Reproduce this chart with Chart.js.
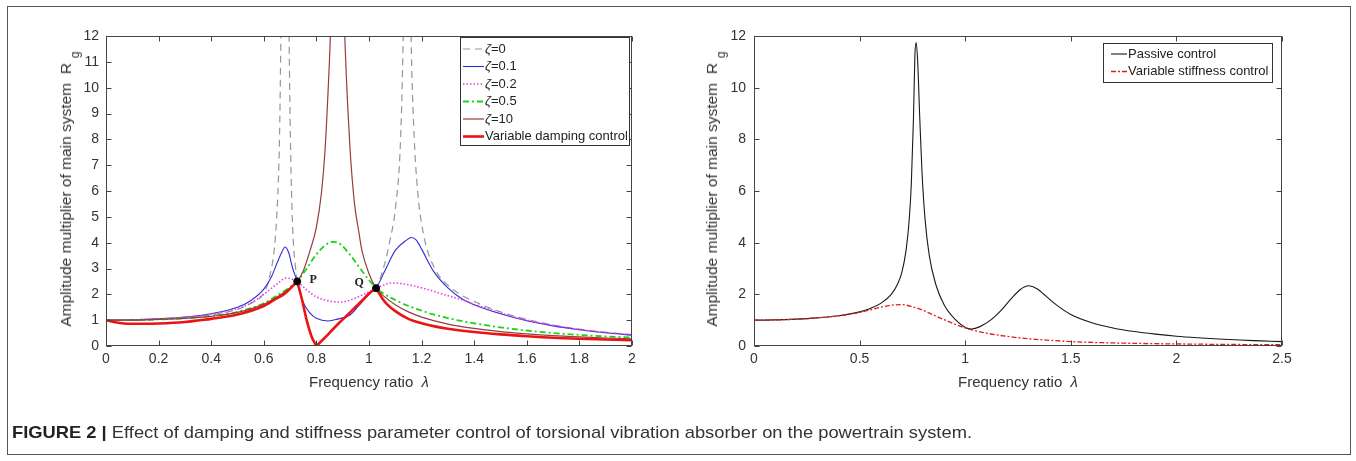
<!DOCTYPE html>
<html><head><meta charset="utf-8">
<script src="https://cdn.jsdelivr.net/npm/chart.js@4.4.1/dist/chart.umd.min.js"></script>
<style>
body{margin:0;background:#fff;}
#wrap{position:relative;width:1356px;height:461px;overflow:hidden;background:#fff;font-family:"Liberation Sans",Arial,sans-serif;color:#333;}
#frame{position:absolute;left:7px;top:6px;width:1344px;height:449px;border:1px solid #555;box-sizing:border-box;}
canvas{position:absolute;left:0;top:0;}
.ytitle{position:absolute;white-space:nowrap;font-size:15.5px;color:#333;transform:translate(-50%,-50%) rotate(-90deg);}
.ytitle .sub{position:relative;top:8px;margin-left:5px;font-size:12px;}
.xtitle{position:absolute;white-space:nowrap;font-size:15px;color:#333;transform:translate(-50%,-50%);}
#caption{position:absolute;left:12px;top:423px;white-space:nowrap;font-size:17px;color:#333;transform-origin:0 0;font-family:"Liberation Sans Narrow","Liberation Sans",Arial,sans-serif;}
#caption b{color:#222;}
</style></head>
<body>
<div id="wrap">
<div id="frame"></div>
<canvas id="c1" width="1356" height="461"></canvas>
<canvas id="c2" width="1356" height="461"></canvas>
<div class="ytitle" style="left:66px;top:189px">Amplitude multiplier of main system&nbsp;&nbsp;R<span class="sub">g</span></div>
<div class="ytitle" style="left:712px;top:189px">Amplitude multiplier of main system&nbsp;&nbsp;R<span class="sub">g</span></div>
<div class="xtitle" style="left:369px;top:381px">Frequency ratio&nbsp;&nbsp;<i>λ</i></div>
<div class="xtitle" style="left:1018px;top:381px">Frequency ratio&nbsp;&nbsp;<i>λ</i></div>
<div id="caption"><b>FIGURE 2 |</b> Effect of damping and stiffness parameter control of torsional vibration absorber on the powertrain system.</div>
</div>
<script>
// ---------- LEFT CHART DATA (frequency ratio λ, amplitude multiplier Rg) ----------
const leftXTicks = [0,0.2,0.4,0.6,0.8,1,1.2,1.4,1.6,1.8,2];
const leftYTicks = [0,1,2,3,4,5,6,7,8,9,10,11,12];
const leftLegendLabels = ['ζ=0','ζ=0.1','ζ=0.2','ζ=0.5','ζ=10','Variable damping control'];

const lamZeta0 = [0,0.1,0.2,0.3,0.4,0.5,0.55,0.6,0.62,0.643,0.655,0.66,0.665,0.67,0.675,0.685,0.69,0.696,0.70,0.705,0.712,0.72,0.727,0.744,0.763,0.782,0.8,0.82,0.86,0.9,0.95,1.0,1.027,1.06,1.08,1.1,1.12,1.13,1.14,1.15,1.16,1.17,1.185,1.21,1.25,1.3,1.35,1.4,1.5,1.6,1.7,1.8,1.9,2.0];
const ampZeta0 = [1.0,1.01,1.04,1.1,1.2,1.42,1.65,2.05,2.6,4.1,6.3,8.2,12,17,24,24,17,12,8.8,6.1,4.1,3.1,2.5,1.85,1.0,0.36,0.0,0.2,0.62,1.02,1.52,2.0,2.24,3.2,4.1,5.3,8.0,12,20,20,12,8.5,6.0,4.2,3.0,2.35,1.98,1.72,1.32,1.03,0.81,0.65,0.53,0.44];

const lamZeta01 = [0,0.1,0.2,0.3,0.4,0.5,0.55,0.6,0.63,0.65,0.667,0.681,0.695,0.71,0.727,0.745,0.776,0.8,0.845,0.88,0.928,0.96,1.0,1.027,1.06,1.1,1.143,1.16,1.18,1.2,1.245,1.3,1.35,1.4,1.5,1.6,1.7,1.8,1.9,2.0];
const ampZeta01 = [1.0,1.01,1.05,1.12,1.25,1.5,1.75,2.2,2.7,3.2,3.6,3.83,3.6,3.0,2.5,1.8,1.27,1.07,0.97,1.04,1.2,1.55,2.0,2.24,2.9,3.7,4.1,4.2,4.1,3.75,2.9,2.25,1.85,1.6,1.25,0.98,0.78,0.63,0.51,0.42];

const lamZeta02 = [0,0.1,0.2,0.3,0.4,0.5,0.55,0.6,0.65,0.685,0.705,0.727,0.76,0.8,0.85,0.89,0.93,0.97,1.0,1.027,1.06,1.08,1.12,1.2,1.3,1.35,1.4,1.5,1.6,1.7,1.8,1.9,2.0];
const ampZeta02 = [1.0,1.01,1.05,1.11,1.23,1.45,1.65,2.0,2.4,2.63,2.6,2.5,2.2,1.9,1.74,1.7,1.78,1.95,2.1,2.24,2.38,2.44,2.42,2.25,1.95,1.8,1.62,1.28,1.0,0.8,0.64,0.52,0.43];

const lamZeta05 = [0,0.1,0.2,0.3,0.4,0.5,0.6,0.65,0.7,0.727,0.76,0.8,0.84,0.865,0.89,0.93,0.97,1.0,1.027,1.06,1.1,1.15,1.2,1.245,1.3,1.35,1.4,1.5,1.6,1.7,1.8,1.9,2.0];
const ampZeta05 = [1.0,1.0,1.03,1.08,1.16,1.32,1.65,1.95,2.28,2.5,2.95,3.55,3.95,4.03,3.95,3.5,2.95,2.55,2.24,2.0,1.78,1.55,1.37,1.22,1.08,0.97,0.88,0.72,0.6,0.5,0.43,0.37,0.33];

const lamZeta10 = [0,0.1,0.2,0.3,0.4,0.5,0.6,0.65,0.7,0.727,0.75,0.776,0.8,0.82,0.833,0.845,0.853,0.86,0.87,0.89,0.9,0.908,0.918,0.928,0.945,0.96,0.973,1.0,1.027,1.06,1.1,1.15,1.2,1.3,1.4,1.5,1.6,1.7,1.8,1.9,2.0];
const ampZeta10 = [1.0,1.0,1.03,1.07,1.15,1.3,1.62,1.9,2.25,2.5,2.9,3.7,4.6,6.0,7.6,10,12,15,20,20,15,12,9.5,7.6,5.5,4.5,3.7,2.8,2.24,1.9,1.6,1.32,1.12,0.85,0.68,0.56,0.47,0.4,0.35,0.31,0.28];

const lamControl = [0,0.03,0.06,0.1,0.15,0.2,0.3,0.357,0.4,0.5,0.6,0.65,0.673,0.7,0.727,0.744,0.763,0.782,0.8,0.82,0.836,0.86,0.887,0.92,0.951,0.98,1.002,1.027,1.05,1.07,1.1,1.15,1.2,1.25,1.3,1.4,1.5,1.6,1.7,1.8,1.9,2.0];
const ampControl = [1.0,0.93,0.88,0.86,0.86,0.87,0.93,1.0,1.05,1.22,1.55,1.85,1.98,2.22,2.5,1.85,1.0,0.36,0.0,0.2,0.36,0.62,0.9,1.22,1.53,1.82,2.05,2.24,1.85,1.6,1.35,1.05,0.88,0.76,0.67,0.54,0.45,0.38,0.32,0.28,0.25,0.22];
// corners of the control curve (P, zero, Q) where it is not smooth
const controlCorners = [0.727,0.8,1.027];

const fixedPointLam = [0.727,1.027];
const fixedPointAmp = [2.5,2.24];
const fixedPointNames = ['P','Q'];

// ---------- RIGHT CHART DATA ----------
const rightXTicks = [0,0.5,1,1.5,2,2.5];
const rightYTicks = [0,2,4,6,8,10,12];
const rightLegendLabels = ['Passive control','Variable stiffness control'];

const lamPassive = [0,0.1,0.2,0.3,0.4,0.5,0.55,0.6,0.65,0.68,0.7,0.72,0.735,0.745,0.755,0.762,0.768,0.775,0.785,0.795,0.81,0.83,0.86,0.9,0.95,1.0,1.03,1.07,1.12,1.17,1.22,1.26,1.3,1.34,1.38,1.43,1.5,1.6,1.7,1.8,1.9,2.0,2.1,2.2,2.3,2.4,2.5];
const ampPassive = [1.0,1.01,1.04,1.09,1.17,1.32,1.45,1.65,2.0,2.4,2.85,3.7,4.9,6.3,8.8,11.3,11.75,11.0,8.8,6.8,4.9,3.5,2.4,1.6,1.05,0.72,0.66,0.75,1.0,1.38,1.85,2.18,2.33,2.22,1.95,1.6,1.22,0.9,0.7,0.56,0.46,0.38,0.32,0.27,0.23,0.2,0.17];

const lamStiffness = [0,0.1,0.2,0.3,0.4,0.5,0.55,0.6,0.65,0.7,0.75,0.8,0.85,0.9,0.95,1.0,1.1,1.2,1.3,1.4,1.5,1.6,1.75,1.9,2.0,2.25,2.5];
const ampStiffness = [1.0,1.01,1.04,1.09,1.17,1.3,1.4,1.5,1.58,1.6,1.52,1.38,1.2,1.02,0.85,0.7,0.5,0.37,0.28,0.22,0.17,0.14,0.11,0.09,0.08,0.06,0.05];

// ---------- helpers ----------
const pts = (xs, ys) => xs.map((x, i) => ({x: x, y: ys[i]}));
// split a series into smooth pieces at the given corner abscissas (corner point shared)
function splitPts(xs, ys, corners) {
  const pieces = []; let cur = [];
  xs.forEach((x, i) => {
    cur.push({x: x, y: ys[i]});
    if (corners.includes(x)) { pieces.push(cur); cur = [{x: x, y: ys[i]}]; }
  });
  if (cur.length > 1) pieces.push(cur);
  return pieces;
}
const FONT = '"Liberation Sans", Arial, sans-serif';

function axis(pos, min, max, tickArr, pad, size) {
  return {
    type: 'linear', position: pos, min: min, max: max,
    afterBuildTicks: s => { s.ticks = tickArr.map(v => ({value: v})); },
    afterFit: s => { if (pos === 'left') s.width = size; else s.height = size; },
    grid: {display: false, drawTicks: false},
    border: {display: false},
    ticks: {color: '#333', font: {family: FONT, size: 14}, padding: pad, autoSkip: false, maxRotation: 0,
      callback: v => String(v)}
  };
}

const framePlugin = {
  id: 'matFrame',
  afterDatasetsDraw(chart) {
    const {ctx, chartArea: a, scales: {x, y}} = chart;
    ctx.save();
    ctx.strokeStyle = '#444'; ctx.lineWidth = 1;
    const L = Math.round(a.left) + 0.5, R = Math.round(a.right) - 0.5, T = Math.round(a.top) + 0.5, B = Math.round(a.bottom) - 0.5;
    ctx.strokeRect(L, T, R - L, B - T);
    ctx.beginPath();
    x.ticks.forEach(t => {
      const px = Math.round(x.getPixelForValue(t.value)) + 0.5;
      ctx.moveTo(px, B); ctx.lineTo(px, B - 5);
      ctx.moveTo(px, T); ctx.lineTo(px, T + 5);
    });
    y.ticks.forEach(t => {
      const py = Math.round(y.getPixelForValue(t.value)) + 0.5;
      ctx.moveTo(L, py); ctx.lineTo(L + 5, py);
      ctx.moveTo(R, py); ctx.lineTo(R - 5, py);
    });
    ctx.stroke();
    ctx.restore();
  }
};

const legendPlugin = {
  id: 'boxLegend',
  afterDraw(chart, args, o) {
    if (!o || !o.rows) return;
    const ctx = chart.ctx;
    ctx.save();
    ctx.fillStyle = '#fff'; ctx.fillRect(o.x, o.y, o.w, o.h);
    ctx.strokeStyle = '#333'; ctx.lineWidth = 1; ctx.strokeRect(o.x + 0.5, o.y + 0.5, o.w, o.h);
    o.rows.forEach((r, i) => {
      const yy = o.y + o.first + i * o.step;
      ctx.beginPath(); ctx.setLineDash(r.dash || []); ctx.strokeStyle = r.color; ctx.lineWidth = r.width;
      ctx.moveTo(o.x + o.s0, yy); ctx.lineTo(o.x + o.s1, yy); ctx.stroke();
      ctx.setLineDash([]);
      ctx.fillStyle = '#222'; ctx.textBaseline = 'middle';
      let tx = o.x + o.t0;
      const label = r.label;
      const parts = label.charAt(0) === 'ζ' ? [{t: 'ζ', i: true}, {t: label.slice(1)}] : [{t: label}];
      parts.forEach(p => {
        ctx.font = (p.i ? 'italic ' : '') + o.fontSize + 'px ' + FONT;
        ctx.fillText(p.t, tx, yy);
        tx += ctx.measureText(p.t).width;
      });
    });
    ctx.restore();
  }
};

const pointLabelPlugin = {
  id: 'pqLabels',
  afterDraw(chart, args, o) {
    if (!o || o.dataset === undefined) return;
    const meta = chart.getDatasetMeta(o.dataset);
    const ctx = chart.ctx;
    ctx.save();
    ctx.font = 'bold 12px "Liberation Serif", "DejaVu Serif", serif';
    ctx.fillStyle = '#222'; ctx.textBaseline = 'middle'; ctx.textAlign = 'center';
    meta.data.forEach((el, i) => {
      const off = o.offsets[i];
      ctx.fillText(o.names[i], el.x + off[0], el.y + off[1]);
    });
    ctx.restore();
  }
};

// ---------- styles ----------
const leftStyles = [
  {color: 'rgb(150,150,150)', width: 1.2, dash: [7, 5]},
  {color: 'rgb(45,45,215)', width: 1.1, dash: []},
  {color: 'rgb(230,60,230)', width: 1.6, dash: [1.5, 2]},
  {color: 'rgb(20,215,20)', width: 1.8, dash: [6, 3, 2, 3]},
  {color: 'rgb(150,60,60)', width: 1.2, dash: []},
  {color: 'rgb(235,20,20)', width: 2.6, dash: []}
];
const leftSeries = [
  [pts(lamZeta0, ampZeta0)], [pts(lamZeta01, ampZeta01)], [pts(lamZeta02, ampZeta02)],
  [pts(lamZeta05, ampZeta05)], [pts(lamZeta10, ampZeta10)], splitPts(lamControl, ampControl, controlCorners)
];
const leftDatasets = [];
leftSeries.forEach((pieces, i) => pieces.forEach(d => leftDatasets.push({
  label: leftLegendLabels[i], data: d, showLine: true, pointRadius: 0,
  borderColor: leftStyles[i].color, borderWidth: leftStyles[i].width, borderDash: leftStyles[i].dash,
  cubicInterpolationMode: 'monotone', tension: 0.4, order: 5 - i, fill: false
})));
leftDatasets.push({
  label: 'fixed points', data: pts(fixedPointLam, fixedPointAmp), showLine: false,
  pointRadius: 3.5, pointBackgroundColor: '#000', pointBorderColor: '#000', order: -1
});

new Chart(document.getElementById('c1'), {
  type: 'scatter',
  data: {datasets: leftDatasets},
  options: {
    responsive: false, animation: false, devicePixelRatio: 1,
    layout: {padding: {left: 106 - 50, top: 36, right: 1356 - 632, bottom: 461 - 346 - 30}},
    scales: {x: axis('bottom', 0, 2, leftXTicks, 5, 30), y: axis('left', 0, 12, leftYTicks, 7, 50)},
    plugins: {
      legend: {display: false}, tooltip: {enabled: false},
      boxLegend: {x: 460, y: 37, w: 169, h: 108, first: 12, step: 17.5, s0: 3, s1: 24, t0: 25, fontSize: 13,
        rows: leftStyles.map((s, i) => ({label: leftLegendLabels[i], color: s.color, width: s.width, dash: s.dash}))},
      pqLabels: {dataset: leftDatasets.length - 1, names: fixedPointNames, offsets: [[16, -2], [-17, -5]]}
    }
  },
  plugins: [framePlugin, legendPlugin, pointLabelPlugin]
});

const rightStyles = [
  {color: 'rgb(25,25,25)', width: 1.1, dash: []},
  {color: 'rgb(220,30,30)', width: 1.3, dash: [5, 2, 2, 2]}
];
const rightSeries = [pts(lamPassive, ampPassive), pts(lamStiffness, ampStiffness)];
const rightDatasets = rightSeries.map((d, i) => ({
  label: rightLegendLabels[i], data: d, showLine: true, pointRadius: 0,
  borderColor: rightStyles[i].color, borderWidth: rightStyles[i].width, borderDash: rightStyles[i].dash,
  cubicInterpolationMode: 'monotone', tension: 0.4, order: 1 - i, fill: false
}));

new Chart(document.getElementById('c2'), {
  type: 'scatter',
  data: {datasets: rightDatasets},
  options: {
    responsive: false, animation: false, devicePixelRatio: 1,
    layout: {padding: {left: 754 - 50, top: 36, right: 1356 - 1282, bottom: 461 - 346 - 30}},
    scales: {x: axis('bottom', 0, 2.5, rightXTicks, 5, 30), y: axis('left', 0, 12, rightYTicks, 8, 50)},
    plugins: {
      legend: {display: false}, tooltip: {enabled: false},
      boxLegend: {x: 1103, y: 43, w: 169, h: 39, first: 11, step: 17.5, s0: 8, s1: 24, t0: 25, fontSize: 13,
        rows: rightStyles.map((s, i) => ({label: rightLegendLabels[i], color: s.color, width: s.width, dash: s.dash}))}
    }
  },
  plugins: [framePlugin, legendPlugin]
});

// fit caption width to the reference span
const cap = document.getElementById('caption');
const w = cap.getBoundingClientRect().width;
cap.style.transform = 'scaleX(' + (960 / w) + ')';
</script>
</body></html>
